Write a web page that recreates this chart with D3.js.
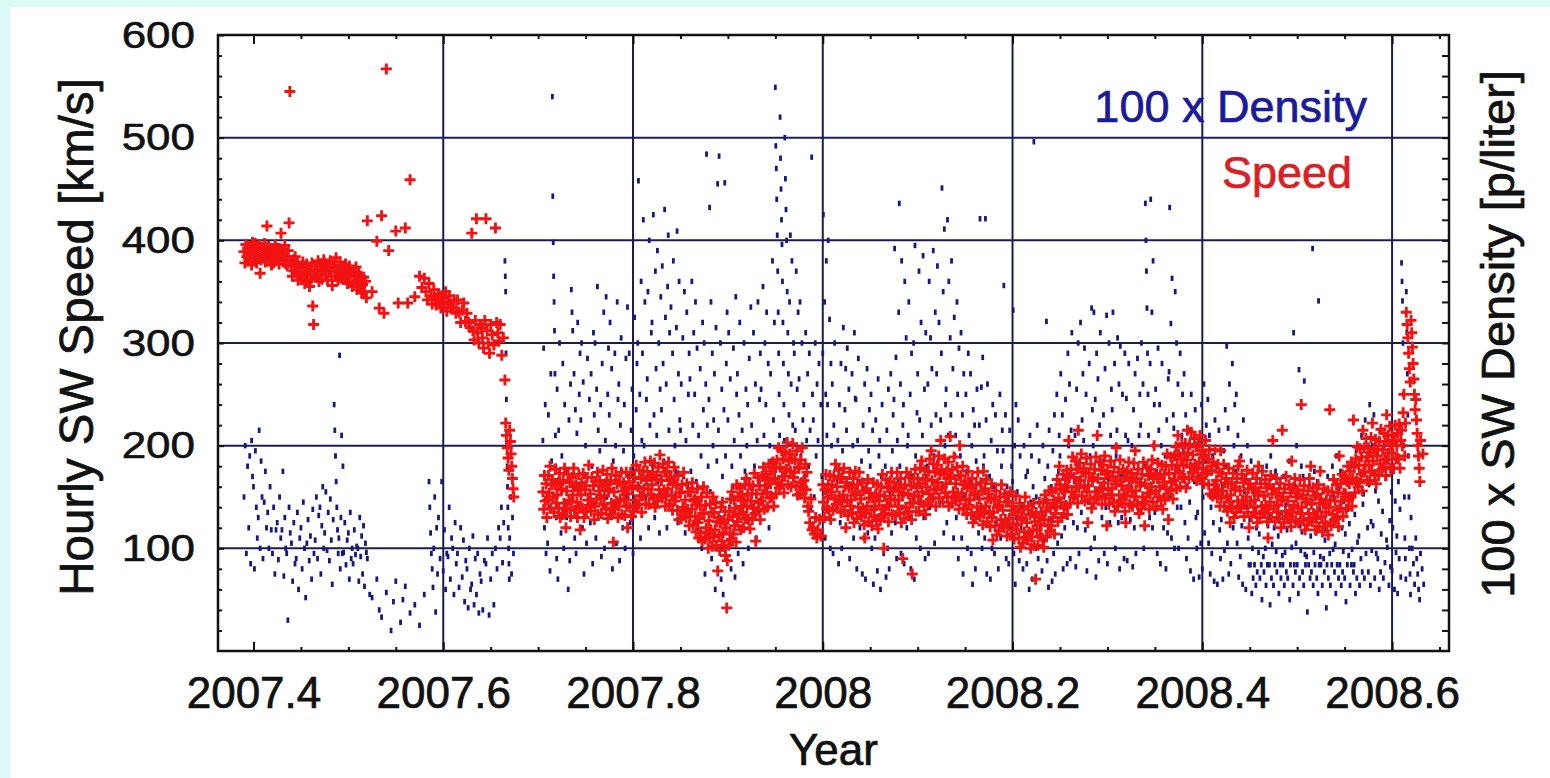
<!DOCTYPE html>
<html>
<head>
<meta charset="utf-8">
<script src="https://cdn.jsdelivr.net/npm/d3@7"></script>
<style>
  html, body { margin: 0; padding: 0; background: #ffffff; }
  svg { display: block; }
  text { font-family: "Liberation Sans", Arial, Helvetica, sans-serif; }
</style>
</head>
<body>
<svg id="chart" width="1550" height="778"></svg>
<script>
// Hourly solar-wind samples, grouped into bins of 0.005 yr starting at firstBin.
// Each inner list holds the samples of one bin, in time order within the bin.
const firstBin = 2007.390;
const binWidth = 0.005;

// Hourly SW speed [km/s]
const speedBins = [
  // 2007.390
  [389,378,396,384,392],[383,394,387,376,398],[391,380,397,386,378,393],[386,395,368,381,390],[392,383,397,379,388,414],
  [385,394,380,390,376],[390,378,387,396,382],[383,392,377,388,407],[391,380,386,395,377],[384,375,390,417,545,379],
  // 2007.440
  [376,365,381,370,384],[368,378,361,373,366],[374,363,379,368,358],[366,377,360,371,355],[371,362,378,336,318,367],
  [375,364,370,380,360],[367,377,362,372,381],[378,366,373,361,376],[370,380,365,356,374],[376,365,383,370,361],
  // 2007.490
  [369,379,363,374,366],[373,362,377,368,358],[365,375,360,370,355],[370,359,366,374,352],[362,368,355,365,349],
  [357,364,350,360,344],[419],[350],[399,334],[424,329],
  // 2007.540
  [567,390],[],[409,339],[],[412,339],
  [459],[345],[365,354],[363,350,342],[358,346,338],
  // 2007.590
  [352,344,337,342],[348,340,334,345],[344,338,350,331],[340,346,334,335],[335,342,329],
  [342,330,320],[332,339,321],[329,320,315],[407,312,303,322],[421,310,300,318],
  // 2007.640
  [315,305,295,322],[421,312,300,290],[318,308,298],[412,320,310,302],[318,288,305],
  [264,222,210,198,188,176],[215,204,192,180,168,158,150],[],[],[],
  // 2007.690
  [],[],[],[155,138,171,146,163,130],[147,171,154,180,139,162],
  [167,150,135,162,177,144],[152,164,139,173,130,157],[158,133,166,144,178,139,120],[156,139,172,147,164,131],[145,169,152,178,137,160],
  // 2007.740
  [162,145,130,157,172,139,118],[152,164,139,173,130,157],[161,136,169,147,181,142],[153,136,169,144,161,128],[141,165,148,174,133,156],
  [166,149,134,161,176,143],[151,163,138,172,129,156],[158,133,166,144,178,139,106],[155,138,171,146,163,130],[141,165,148,174,133,156],
  // 2007.790
  [164,147,132,159,174,141,120],[153,165,140,174,131,158],[161,136,169,147,181,142],[160,143,176,151,168,135],[151,175,158,184,143,166],
  [175,158,143,170,185,152],[162,174,149,183,140,167],[171,146,179,157,191,152],[166,149,182,157,174,141],[151,175,158,184,143,166],
  // 2007.840
  [169,152,137,164,179,146],[150,162,137,171,128,155],[154,129,162,140,174,135],[147,130,163,138,155,122],[131,155,138,164,123,146],
  [148,131,116,143,158,125,110],[129,141,116,150,107,134,160],[134,109,142,120,154,115,100],[127,110,143,118,135,102,150],[111,135,118,144,103,126,78],
  // 2007.890
  [130,113,98,125,140,107,145],[115,127,102,136,93,120,42,88],[128,103,136,114,148,109,155],[131,114,147,122,139,106,162],[126,150,133,159,118,141],
  [152,135,120,147,162,129,168],[141,153,128,162,119,146],[153,128,161,139,173,134,107],[153,136,169,144,161,128],[146,170,153,179,138,161],
  // 2007.940
  [172,155,140,167,182,149],[163,175,150,184,141,168],[178,153,186,164,198,159],[179,162,195,170,187,154],[170,194,177,203,162,185],
  [192,175,160,187,202,169],[174,186,161,195,152,179],[178,153,186,164,198,159],[166,149,182,157,174,141],[136,125,148,118],
  // 2007.990
  [120,114,130,110],[118,128,112],[162,145,130,157,172,139],[150,162,137,171,128,155],[162,137,170,148,182,143],
  [160,143,176,151,168,135],[145,169,152,178,137,160,120],[164,147,132,159,174,141],[147,159,134,168,125,152,175],[154,129,162,140,174,135],
  // 2008.040
  [148,131,164,139,156,123,110],[134,158,141,167,126,149],[154,137,122,149,164,131],[141,153,128,162,119,146],[152,127,160,138,172,133,100],
  [151,134,167,142,159,126],[141,165,148,174,133,156],[164,147,132,159,174,141],[147,159,134,168,125,152,90],[154,129,162,140,174,135],
  // 2008.090
  [153,136,169,144,161,128,75],[144,168,151,177,136,159],[168,151,136,163,178,145,185],[155,167,142,176,133,160],[167,142,175,153,187,148,195],
  [166,149,182,157,174,141],[157,181,164,190,149,172,205],[177,160,145,172,187,154],[163,175,150,184,141,168,209],[169,144,177,155,189,150],
  // 2008.140
  [163,146,179,154,171,138,200],[147,171,154,180,139,162],[165,148,133,160,175,142],[147,159,134,168,125,152],[154,129,162,140,174,135],
  [148,131,164,139,156,123,175],[134,158,141,167,126,149],[153,136,121,148,163,130,108],[135,147,122,156,113,140],[142,117,150,128,162,123],
  // 2008.190
  [137,120,153,128,145,112],[122,146,129,155,114,137],[141,124,109,136,151,118],[123,135,110,144,101,128],[130,105,138,116,150,111],
  [125,108,141,116,133,100],[111,135,118,144,103,126,70],[135,118,103,130,145,112],[123,135,110,144,101,128,152],[136,111,144,122,156,117],
  // 2008.240
  [139,122,155,130,147,114],[134,158,141,167,126,149,180],[162,145,130,157,172,139],[155,167,142,176,133,160,205],[169,144,177,155,189,150],
  [169,152,185,160,177,144,215],[159,183,166,192,151,174],[178,161,146,173,188,155,125],[161,173,148,182,139,166],[169,144,177,155,189,150,210],
  // 2008.290
  [168,151,184,159,176,143],[157,181,164,190,149,172,122],[175,158,143,170,185,152],[158,170,145,179,136,163,198],[166,141,174,152,186,147],
  [161,144,177,152,169,136,125],[151,175,158,184,143,166],[173,156,141,168,183,150,195],[156,168,143,177,134,161],[164,139,172,150,184,145,122],
  // 2008.340
  [163,146,179,154,171,138],[153,177,160,186,145,168,200],[173,156,141,168,183,150],[160,172,147,181,138,165],[172,147,180,158,192,153,128],
  [173,156,189,164,181,148],[166,190,173,199,158,181,210],[192,175,160,187,202,169],[181,193,168,202,159,186,215],[193,168,201,179,213,174],
  // 2008.390
  [191,174,207,182,199,166],[177,201,184,210,169,192],[195,178,163,190,205,172],[175,187,162,196,153,180],[176,151,184,162,196,157],
  [166,149,182,157,174,141,195],[149,173,156,182,141,164],[168,151,136,163,178,145,125],[152,164,139,173,130,157],[160,135,168,146,180,141,185],
  // 2008.440
  [156,139,172,147,164,131],[143,167,150,176,135,158,120],[163,146,131,158,173,140],[147,159,134,168,125,152,180],[155,130,163,141,175,136],
  [151,134,167,142,159,126,110],[138,162,145,171,130,153,205],[158,141,126,153,168,135],[142,154,129,163,120,147,215],[150,125,158,136,170,131],
  // 2008.490
  [146,129,162,137,154,121,185],[135,159,142,168,127,150],[157,140,125,152,167,134,240],[140,152,127,161,118,145],[148,123,156,134,168,129,180],
  [143,126,159,134,151,118],[129,153,136,162,121,144,175],[148,131,116,143,158,125],[135,147,122,156,113,140,235],[147,122,155,133,167,128],
  // 2008.540
  [146,129,162,137,154,121,190],[139,163,146,172,131,154],[170,153,138,165,180,147],[163,175,150,184,141,168,225],[179,154,187,165,199,160],
  [181,164,197,172,189,156,215],[174,198,181,207,166,189],[198,181,166,193,208,175,222],[185,197,172,206,163,190],[196,171,204,182,216,177],
  // 2008.590
  [196,179,212,187,204,171,230],[186,210,193,219,178,201],[210,193,178,205,220,187],[200,212,187,221,178,205],[215,200,232,250,190,222],
  [330,318,305,290,275,262],[322,310,296,280,265,250,235],[245,225,212,200,190,178,165],[205,192]
];

// 100 x SW density [p/liter]
const densityBins = [
  // 2007.390
  [150,200,95,180],[120,190,85,205,170],[160,80,195,140,110],[130,215,100,185,150],[90,145,175,120],
  [135,100,160,118],[95,140,75,118],[125,89,150,110],[118,175,73,130,100],[95,30,140,115],
  // 2007.440
  [105,68,125,85],[90,135,60,110],[120,80,145,100],[52,105,128,88],[112,70,138,95],
  [108,150,90,132],[140,75,122,160,100],[115,155,98,135],[88,148,108,65,128],[240,215,190,165,140,118,95],
  // 2007.490
  [110,288,80,130,210,95,180],[96,125,84,108],[115,70,135,90,100],[85,118,94,102],[100,68,130,92,112],
  [75,122,63,105,96],[90,55],[52],[70,40],[33],
  // 2007.540
  [57],[20,48],[68],[28,50],[63],
  [37],[45],[25],[55],[165,140,115,95,80,62],
  // 2007.590
  [100,150,38,120,75],[130,90,165],[78,118,60,95],[92,140,70,110],[100,55,125,85],
  [95,62,120],[72,108,48,88],[80,42,100,60],[65,112,45,90],[55,95,37,75],
  // 2007.640
  [68,40,88],[85,110,35],[70,95,45],[100,80,120],[110,140,86,125],
  [380,365,350,290,245,200,180,160,140,120,100,85,70],[110,150,75,130,95],[],[],[],
  // 2007.690
  [],[],[],[205,295,120,240,95,150],[105,230,140,78,270,185],
  [540,443,398,365,340,312,270,210,180,130,90],[255,70,215,300,165,115],[190,280,100,240,145],[130,175,60,225,88,260],[352,330,312,160,270,110,235],
  // 2007.740
  [95,212,320,140,250,290],[225,300,120,262,75,170],[200,105,285,150,245],[125,270,180,85,310,230],[300,110,255,355,215,160],
  [195,240,92,280,140,330],[100,205,345,150,250,295],[230,320,130,275,80,185],[145,290,200,105,340,245],[260,88,220,305,175,120],
  // 2007.790
  [195,240,100,285,150,335],[170,290,125,215,255],[95,190,325,140,235,280],[300,458,160,250,110,360,205],[290,420,200,340,150,245],
  [265,350,120,400,220,170,310],[320,180,425,230,130,370,275],[210,390,165,300,115,255,345],[235,375,280,185,430,325],[260,120,355,405,215,310,170],
  // 2007.840
  [335,155,290,380,245,200],[175,315,409,125,270,360,225],[215,260,130,305,170,350],[115,205,330,160,250,290],[265,175,360,220,310],
  [250,340,165,295,120,210],[145,275,190,100,320,235],[300,75,260,484,220,180],[245,432,155,340,90,290,200],[225,270,60,315,185,455],
  // 2007.890
  [215,482,130,300,70,255,170],[55,235,456,190,280,330],[225,310,140,265,80,180],[160,295,205,72,345,250],[270,95,230,320,190,150],
  [215,85,300,175,255],[200,240,100,285,160,335],[220,140,310,180,260],[110,205,340,165,245,290],[255,170,355,210,300],
  // 2007.940
  [240,330,160,280,120,200],[270,185,380,225,320],[549,492,470,440,405,370,330,290,250,210],[520,480,450,420,396,360,320,280,240,205],[500,460,430,400,350,310,270,230],
  [340,405,260,380,220,300],[290,215,370,255,330],[265,340,190,300,225],[240,170,310,205,270],[180,290,215,140,481,250],
  // 2007.990
  [225,150,300,190,260],[205,280,130,240,170],[290,425,160,340,110,250,380,210],[240,400,150,323,100,280,200],[260,95,220,300,180,140],
  [165,205,85,240,125,280],[100,195,315,150,235,275],[215,295,135,255,90,175],[160,270,200,110,310,246],[245,80,205,285,165,120],
  // 2008.040
  [150,185,75,220,110,260],[70,160,275,115,195,235],[180,250,100,215,65,140],[110,225,150,78,265,190],[205,60,170,240,130,95],
  [140,180,72,215,100,255],[80,155,270,115,195,230],[245,392,125,286,90,205,165],[330,436,180,260,95,380,140,220],[240,85,360,160,305,120,200],
  // 2008.090
  [210,340,130,250,80,290,170],[150,300,70,395,190,110,232],[270,145,370,225,100,320,185],[210,385,130,255,90,310,170],[180,260,95,360,140,305,220],
  [275,150,390,190,105,330,230],[270,375,185,320,145,225],[290,451,160,350,115,411,200,240],[255,125,420,210,360,170,305],[230,380,150,275,110,325,190],
  // 2008.140
  [210,130,340,250,90,295,170],[190,310,110,230,75,270,150],[140,250,175,100,290,210],[165,270,95,200,65,235,130],[220,80,185,255,150,115],
  [220,421,140,257,100,286,180],[190,110,421,225,75,260,150],[135,170,70,205,100,240],[160,95,230,125,195],[80,145,250,110,180,215],
  // 2008.190
  [195,356,125,230,90,160],[150,85,215,120,180],[165,332,95,200,65,240,130],[155,225,88,190,120],[140,80,200,110,170],
  [85,175,115,60,210,145],[190,70,160,496,130,100],[150,220,90,185,120],[138,78,200,108,168],[148,321,88,180,62,215,118],
  // 2008.240
  [128,160,68,195,95,230],[75,140,250,105,175,210],[190,270,112,230,80,150],[120,245,160,85,290,200],[260,90,215,310,170,125],
  [165,210,82,255,120,300],[95,180,320,135,225,270],[205,295,118,250,78,160],[145,280,190,100,334,235],[200,330,110,245,72,290,155],
  // 2008.290
  [265,88,220,310,175,130],[185,230,95,275,140,327],[85,168,300,125,210,255],[235,330,145,280,100,190],[215,305,125,260,80,297,170],
  [130,250,170,90,290,210],[246,88,205,280,165,128],[160,200,82,235,120,270],[95,172,285,135,210,250],[220,300,140,260,100,180],
  // 2008.340
  [436,400,370,334,290,250,210,170,130],[280,440,160,330,120,380,200,240],[135,255,175,95,295,215],[240,85,200,280,160,120],[150,190,80,225,115,265],
  [272,432,150,319,110,363,190,230],[217,100,350,180,300,140,260],[100,175,290,140,210,250],[195,270,125,230,90,160],[110,215,145,78,250,180],
  // 2008.390
  [200,70,165,235,130,100],[135,170,72,205,105,240],[80,150,260,115,185,220],[175,245,105,210,75,140],[95,190,125,68,225,158],
  [180,65,150,215,118,90],[128,160,70,195,98,235],[180,297,105,217,75,260,140],[85,160,280,120,200,240],[175,250,105,210,72,140],
  // 2008.440
  [92,190,122,65,225,155],[170,60,140,200,110,84],[128,84,185,56,100,71,155],[84,145,64,120,77,175,96],[114,71,165,84,50,138,92],
  [77,150,100,64,180,84,122],[130,84,45,190,71,104,158],[64,120,84,175,97,77,146],[112,56,160,84,71,135,93],[84,170,64,96,142,77,118],
  // 2008.490
  [71,126,185,50,84,155,101],[132,64,310,84,162,77,105,200],[84,150,56,274,71,122,98,180],[116,77,170,64,263,94,84,142],[92,38,135,84,160,71,112],
  [77,146,392,64,96,175,84,120],[115,71,165,56,341,84,140,92],[84,130,64,155,90,77,108],[118,42,84,170,71,142,95],[64,124,84,180,99,150,77],
  // 2008.540
  [104,56,190,84,130,71,158],[84,175,64,120,77,97,146],[71,114,48,165,84,138,93],[124,64,180,84,99,150,77],[84,133,56,195,71,106,162],
  [112,64,175,90,210,77,143],[153,71,225,95,188,120],[77,162,240,64,126,98,200],[122,230,71,156,95,192],[90,146,60,215,77,114,180],
  // 2008.590
  [136,71,200,86,168,108],[101,185,64,127,82,155],[78,120,175,60,146,96],[112,56,165,90,138,72],[378,360,341,300,250,200,150,110,90,70],
  [350,310,270,230,190,150,100,75,55],[130,100,85,65],[110,90,75,60,50],[95,80,65]
];

// Axis ticks and labels
const xTicks = [2007.4, 2007.6, 2007.8, 2008.0, 2008.2, 2008.4, 2008.6];
const xTickLabels = ["2007.4", "2007.6", "2007.8", "2008", "2008.2", "2008.4", "2008.6"];
const yTicks = [100, 200, 300, 400, 500, 600];
const yTickLabels = ["100", "200", "300", "400", "500", "600"];
const legendLabels = ["100 x Density", "Speed"];

// ---- layout ----
const W = 1550, H = 778;
const plot = { left: 218, right: 1449, top: 35, bottom: 651 };
const speedColor = "#f21212";
const densityColor = "#17177f";
const gridColor = "#1c1c55";
const inkColor = "#111111";

const svg = d3.select("#chart");

// page background with the pale cyan border on the left and top
svg.append("rect").attr("width", W).attr("height", H).attr("fill", "#ffffff");
svg.append("rect").attr("x", 0).attr("y", 0).attr("width", 10).attr("height", H).attr("fill", "#dcfbf6");
svg.append("rect").attr("x", 0).attr("y", 0).attr("width", W).attr("height", 7).attr("fill", "#dcfbf6");

const x = d3.scaleLinear().domain([2007.3626, 2008.660]).range([plot.left, plot.right]);
const y = d3.scaleLinear().domain([0, 600]).range([plot.bottom, plot.top]);

// grid: vertical lines at the labelled years after the first, horizontal at each hundred
const grid = svg.append("g").attr("stroke", gridColor).attr("stroke-width", 2);
grid.selectAll("line.v").data(xTicks.slice(1)).join("line")
  .attr("class", "v")
  .attr("x1", d => x(d)).attr("x2", d => x(d))
  .attr("y1", plot.top).attr("y2", plot.bottom);
grid.selectAll("line.h").data(yTicks.slice(0, -1)).join("line")
  .attr("class", "h")
  .attr("x1", plot.left).attr("x2", plot.right)
  .attr("y1", d => y(d)).attr("y2", d => y(d));

// spread the samples of each bin evenly across the bin
function samples(bins) {
  const out = [];
  bins.forEach((vals, i) => {
    const n = vals.length;
    vals.forEach((v, k) => out.push({ t: firstBin + (i + k / n) * binWidth, v }));
  });
  return out;
}

// density: small vertical dashes
svg.append("g").attr("fill", densityColor)
  .selectAll("rect").data(samples(densityBins)).join("rect")
  .attr("x", d => x(d.t) - 1.4)
  .attr("y", d => y(d.v) - 2.7)
  .attr("width", 2.8)
  .attr("height", 5.4);

// speed: plus markers
svg.append("g").attr("stroke", speedColor).attr("stroke-width", 2.9).attr("fill", "none")
  .selectAll("path").data(samples(speedBins)).join("path")
  .attr("transform", d => `translate(${x(d.t)},${y(d.v)})`)
  .attr("d", "M-5.5,0H5.5M0,-5.5V5.5");

// plot frame
svg.append("rect")
  .attr("x", plot.left).attr("y", plot.top)
  .attr("width", plot.right - plot.left).attr("height", plot.bottom - plot.top)
  .attr("fill", "none").attr("stroke", inkColor).attr("stroke-width", 2.5);

const minorX = d3.range(2007.40, 2008.66, 0.05).filter(d => !xTicks.some(t => Math.abs(t - d) < 1e-6));
const minorY = d3.range(20, 600, 20).filter(d => d % 100 !== 0);

function heavy(sel, color) {
  sel.attr("fill", color).attr("stroke", color).attr("stroke-width", 0.7);
}

function styleAxis(g) {
  g.select(".domain").remove();
  g.selectAll(".tick line").attr("stroke", inkColor).attr("stroke-width", 2);
  g.selectAll("text").style("font-size", "44px").call(heavy, inkColor);
}

// bottom axis with labels, ticks pointing into the plot
svg.append("g").attr("transform", `translate(0,${plot.bottom})`)
  .call(d3.axisBottom(x).tickValues(xTicks).tickFormat((d, i) => xTickLabels[i]).tickSize(-9).tickPadding(26))
  .call(styleAxis);
svg.append("g").attr("transform", `translate(0,${plot.bottom})`)
  .call(d3.axisBottom(x).tickValues(minorX).tickFormat("").tickSize(-4))
  .call(styleAxis);

// top axis, ticks only
svg.append("g").attr("transform", `translate(0,${plot.top})`)
  .call(d3.axisTop(x).tickValues(xTicks).tickFormat("").tickSize(-9))
  .call(styleAxis);
svg.append("g").attr("transform", `translate(0,${plot.top})`)
  .call(d3.axisTop(x).tickValues(minorX).tickFormat("").tickSize(-4))
  .call(styleAxis);

// left axis with labels
svg.append("g").attr("transform", `translate(${plot.left},0)`)
  .call(d3.axisLeft(y).tickValues(yTicks).tickFormat((d, i) => yTickLabels[i]).tickSize(-6).tickPadding(23))
  .call(styleAxis)
  .call(g => g.selectAll("text").attr("transform", "scale(1,0.86)"));
svg.append("g").attr("transform", `translate(${plot.left},0)`)
  .call(d3.axisLeft(y).tickValues(minorY).tickFormat("").tickSize(-4))
  .call(styleAxis);

// right axis, ticks only
svg.append("g").attr("transform", `translate(${plot.right},0)`)
  .call(d3.axisRight(y).tickValues(minorY.concat(yTicks.slice(0, -1))).tickFormat("").tickSize(-7))
  .call(styleAxis);

// axis titles
svg.append("text")
  .attr("x", (plot.left + plot.right) / 2).attr("y", 765)
  .attr("text-anchor", "middle")
  .style("font-size", "44px").call(heavy, inkColor).text("Year");

svg.append("text")
  .attr("transform", "translate(93,337) rotate(-90)")
  .attr("text-anchor", "middle")
  .style("font-size", "47.5px").call(heavy, inkColor).text("Hourly SW Speed [km/s]");

svg.append("text")
  .attr("transform", "translate(1514,334) rotate(-90)")
  .attr("text-anchor", "middle")
  .style("font-size", "47px").call(heavy, inkColor).text("100 x SW Density [p/liter]");

// legend
svg.append("text")
  .attr("x", 1367).attr("y", 122).attr("text-anchor", "end")
  .style("font-size", "45px").call(heavy, "#1a1a9c").text(legendLabels[0]);
svg.append("text")
  .attr("x", 1352).attr("y", 188).attr("text-anchor", "end")
  .style("font-size", "45px").call(heavy, "#d91f26").text(legendLabels[1]);
</script>
</body>
</html>
